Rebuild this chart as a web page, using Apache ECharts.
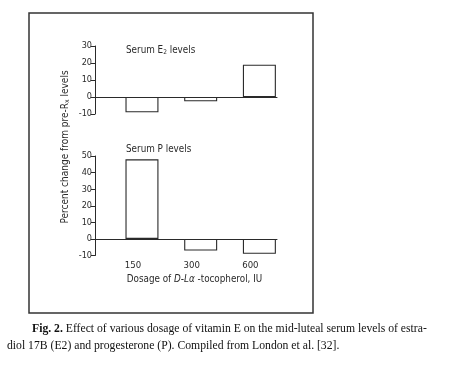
<!DOCTYPE html>
<html><head><meta charset="utf-8">
<script src="https://cdn.jsdelivr.net/npm/echarts@6/dist/echarts.min.js"></script>
<style>html,body{margin:0;padding:0;background:#fff}#c{width:456px;height:368px}</style>
</head><body><div id="c"></div>
<script>
// ---- data ----
const categories = ['150', '300', '600'];
const positions = [1, 2, 3];
const e2Values = [-9, -2.5, 19];
const pValues = [48, -7, -9];
const e2Ticks = [-10, 0, 10, 20, 30];
const pTicks = [-10, 0, 10, 20, 30, 40, 50];

const SANS = '"Liberation Sans Narrow", "DejaVu Sans Condensed", "Liberation Sans", sans-serif';
const SERIF = '"Liberation Serif", "DejaVu Serif", serif';
const INK = '#2a2a2a';

const chart = echarts.init(document.getElementById('c'), null, {renderer: 'canvas'});

function pairs(vals) { return positions.map((p, i) => [p, vals[i]]); }

const yAxisCommon = {
  type: 'value', position: 'left',
  interval: 10,
  axisLine: {show: true, lineStyle: {color: INK, width: 1}},
  axisTick: {show: true, length: 4, inside: false, lineStyle: {color: INK}},
  axisLabel: {fontSize: 9, color: INK, margin: 3, fontFamily: SANS},
  splitLine: {show: false}
};
const xAxisZero = {
  type: 'value', min: 0.2, max: 3.3,
  axisLine: {show: true, onZero: true, lineStyle: {color: INK, width: 1}},
  axisTick: {show: false}, axisLabel: {show: false}, splitLine: {show: false}
};
const barStyle = {color: '#fff', borderColor: INK, borderWidth: 1.1};

const option = {
  animation: false,
  backgroundColor: '#fff',
  title: [
    {text: 'Serum E{s|2} levels', left: 126, top: 44, padding: 0,
     textStyle: {fontSize: 9.8, fontWeight: 'normal', color: INK, fontFamily: SANS,
       rich: {s: {fontSize: 6.5, verticalAlign: 'bottom', padding: [5, 0, 0, 0], color: INK, fontFamily: SANS}}}},
    {text: 'Serum P levels', left: 126, top: 144, padding: 0,
     textStyle: {fontSize: 9.8, fontWeight: 'normal', color: INK, fontFamily: SANS}}
  ],
  grid: [
    {left: 95, width: 182, top: 46, height: 68},
    {left: 95, width: 182, top: 156, height: 99.5}
  ],
  xAxis: [
    Object.assign({gridIndex: 0}, xAxisZero),
    Object.assign({gridIndex: 1}, xAxisZero),
    {gridIndex: 1, type: 'value', min: 0.2, max: 3.3, splitNumber: 3, position: 'bottom',
     axisLine: {show: false, onZero: false}, axisTick: {show: false}, splitLine: {show: false},
     axisLabel: {
       margin: 5, color: INK, fontSize: 9.5, fontFamily: SANS,
       formatter: v => Number.isInteger(v) && categories[v - 1] ? '{a|' + categories[v - 1] + '}' : '',
       rich: {a: {padding: [0, 18, 0, 0], fontSize: 9.5, color: INK, fontFamily: SANS}}
     },
     name: 'Dosage of {i|D-L\u03b1} -tocopherol, IU', nameLocation: 'middle', nameGap: 19,
     nameTextStyle: {fontSize: 9.8, color: INK, fontFamily: SANS, padding: [0, 0, 0, 17],
       rich: {i: {fontStyle: 'italic', fontSize: 9.8, color: INK, fontFamily: SANS}}}}
  ],
  yAxis: [
    Object.assign({gridIndex: 0, min: e2Ticks[0], max: e2Ticks[e2Ticks.length - 1]}, yAxisCommon),
    Object.assign({gridIndex: 1, min: pTicks[0], max: pTicks[pTicks.length - 1]}, yAxisCommon)
  ],
  series: [
    {type: 'bar', xAxisIndex: 0, yAxisIndex: 0, data: pairs(e2Values), barWidth: 33, itemStyle: barStyle},
    {type: 'bar', xAxisIndex: 1, yAxisIndex: 1, data: pairs(pValues), barWidth: 33, itemStyle: barStyle}
  ],
  graphic: [
    {type: 'rect', shape: {x: 29, y: 13, width: 284, height: 300}, silent: true,
     style: {fill: 'none', stroke: '#333', lineWidth: 1.5}},
    {type: 'text', x: 65, y: 147, rotation: Math.PI / 2, silent: true,
     style: {text: 'Percent change from pre-R{s|x} levels', fontSize: 10, fill: INK, fontFamily: SANS,
       align: 'center', verticalAlign: 'middle',
       rich: {s: {fontSize: 6.8, fill: INK, verticalAlign: 'bottom', padding: [5, 0, 0, 0], fontFamily: SANS}}}},
    {type: 'text', x: 32, y: 329, silent: true,
     style: {text: '{b|Fig. 2.} Effect of various dosage of vitamin E on the mid-luteal serum levels of estra-',
       fontSize: 11.7, fill: '#111', fontFamily: SERIF, verticalAlign: 'middle',
       rich: {b: {fontWeight: 'bold', fontSize: 11.7, fill: '#111', fontFamily: SERIF}}}},
    {type: 'text', x: 7, y: 346, silent: true,
     style: {text: 'diol 17B (E2) and progesterone (P). Compiled from London et al. [32].',
       fontSize: 11.7, fill: '#111', fontFamily: SERIF, verticalAlign: 'middle'}}
  ]
};
chart.setOption(option);
</script>
</body></html>
